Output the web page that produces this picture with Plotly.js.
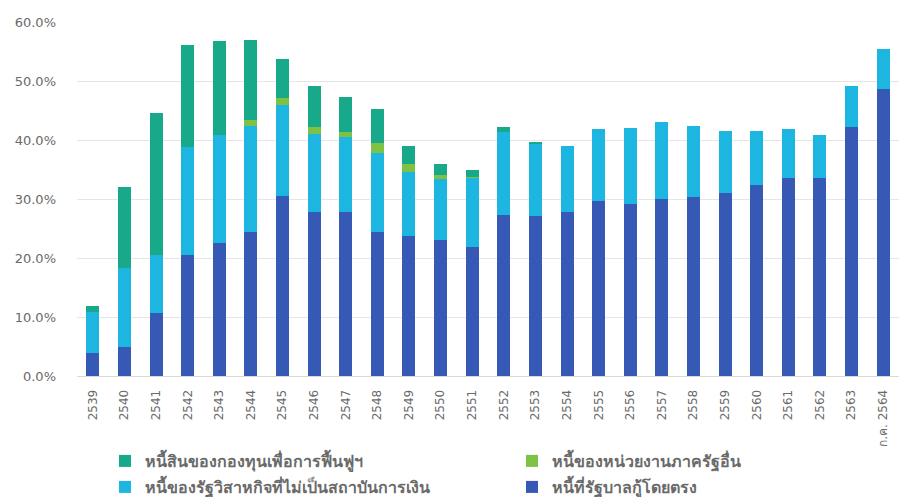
<!DOCTYPE html>
<html>
<head>
<meta charset="utf-8">
<script src="https://cdn.plot.ly/plotly-3.0.1.min.js"></script>
<style>html,body{margin:0;padding:0;background:#fff;}#chart{width:906px;height:497px;}</style>
</head>
<body>
<div id="chart"></div>
<script>
const years = ['2539','2540','2541','2542','2543','2544','2545','2546','2547','2548','2549','2550','2551','2552','2553','2554','2555','2556','2557','2558','2559','2560','2561','2562','2563','ก.ค. 2564'];
const directDebt = [3.9,4.9,10.7,20.5,22.5,24.4,30.5,27.8,27.8,24.4,23.7,23.1,21.9,27.3,27.1,27.8,29.7,29.2,30.0,30.3,31.0,32.4,33.6,33.6,42.2,48.6];
const soeDebt = [6.9,13.4,9.8,18.3,18.3,18.0,15.4,13.2,12.7,13.4,10.9,10.3,11.7,14.1,12.2,11.2,12.2,12.8,13.1,12.1,10.5,9.1,8.3,7.2,7.0,6.8];
const otherDebt = [0,0,0,0,0,1.0,1.2,1.2,0.9,1.7,1.3,0.7,0.2,0,0,0,0,0,0,0,0,0,0,0,0,0];
const fidfDebt = [1.0,13.7,24.1,17.3,16.0,13.5,6.6,7.0,5.9,5.8,3.1,1.8,1.1,0.8,0.4,0,0,0,0,0,0,0,0,0,0,0];
const names = ['หนี้ที่รัฐบาลกู้โดยตรง','หนี้ของรัฐวิสาหกิจที่ไม่เป็นสถาบันการเงิน','หนี้ของหน่วยงานภาครัฐอื่น','หนี้สินของกองทุนเพื่อการฟื้นฟูฯ'];

const colors = ['#3659b5','#1db6e0','#7dc242','#17a98a'];
const series = [directDebt, soeDebt, otherDebt, fidfDebt];
const legends = ['legend4','legend3','legend2','legend'];
const traces = series.map((s,i)=>({
  type:'bar', x:years, y:s, name:names[i],
  marker:{color:colors[i]}, legend:legends[i],
  hoverinfo:'skip'
}));

const legFont = {family:'Noto Sans, sans-serif', size:16, weight:'bold', color:'#6a6a6a'};
function leg(x, y){
  return {orientation:'h', xref:'container', yref:'container', x:x, xanchor:'left', y:y, yanchor:'middle', font:legFont, bgcolor:'rgba(0,0,0,0)'};
}
const layout = {
  width:906, height:497,
  margin:{l:77, r:7, t:22, b:121},
  barmode:'stack', bargap:0.59,
  paper_bgcolor:'#fff', plot_bgcolor:'#fff',
  font:{family:'DejaVu Sans, sans-serif', color:'#666'},
  xaxis:{type:'category', tickangle:-90, tickfont:{family:'DejaVu Sans, sans-serif', size:12, color:'#6a6a6a'}, ticklabelstandoff:8, showgrid:false, showline:true, linecolor:'#d9d9d9', ticks:''},
  yaxis:{range:[0,60], dtick:10, tickformat:'.1f', ticksuffix:'%', tickfont:{family:'DejaVu Sans, sans-serif', size:13, color:'#6a6a6a'}, ticklabelstandoff:20, gridcolor:'#e6e6e6', zeroline:false, showline:false, ticks:''},
  showlegend:true,
  legend: leg(105/906, 1-461/497),
  legend2: leg(512/906, 1-461/497),
  legend3: leg(105/906, 1-487/497),
  legend4: leg(512/906, 1-487/497)
};
Plotly.newPlot('chart', traces, layout, {displayModeBar:false, staticPlot:true});
</script>
</body>
</html>
